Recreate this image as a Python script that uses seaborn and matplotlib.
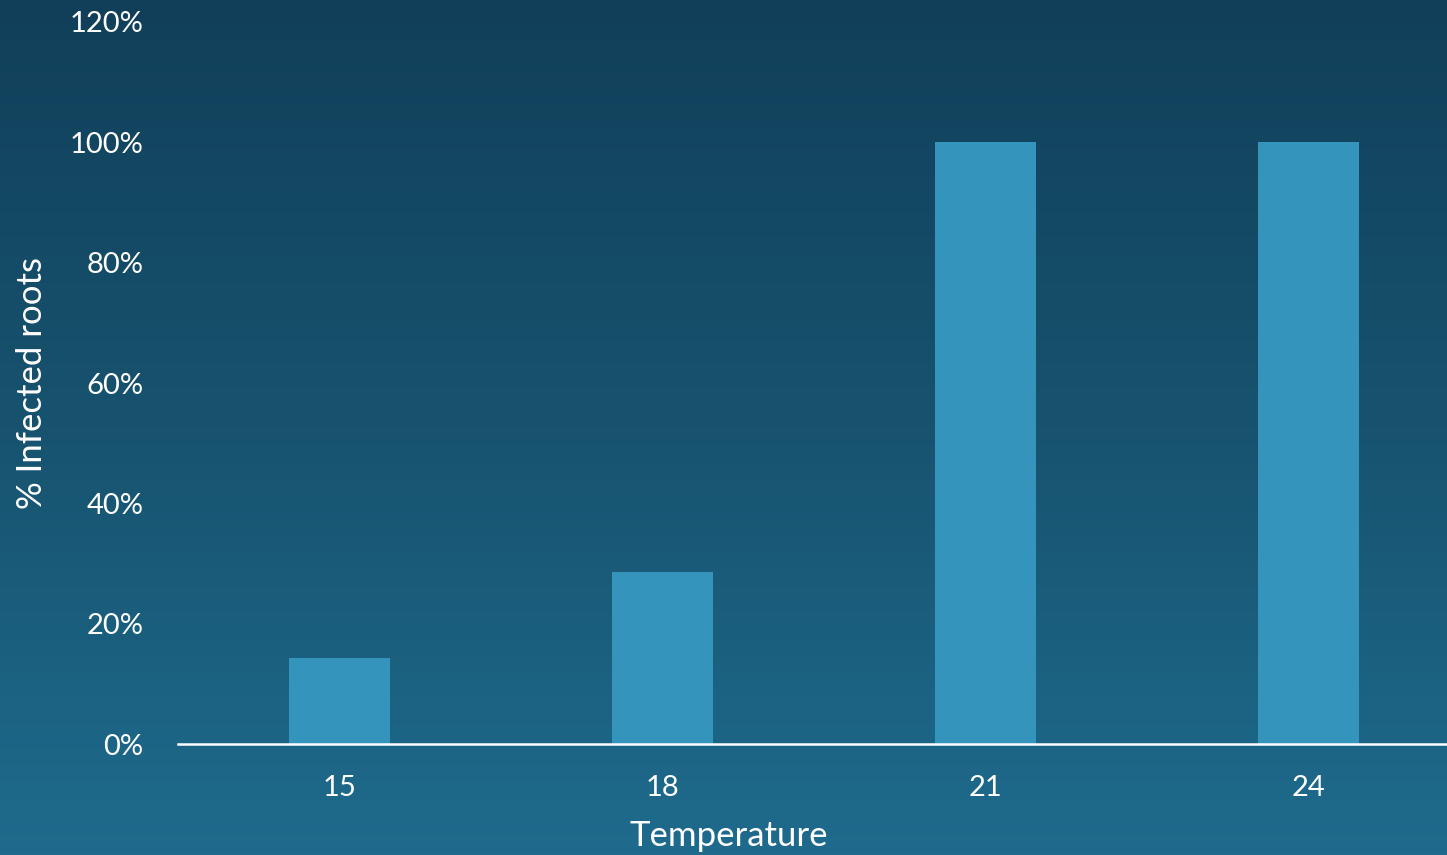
import matplotlib
matplotlib.use('Agg')
import matplotlib.pyplot as plt
import numpy as np
import pandas as pd
import seaborn as sns
from matplotlib.colors import LinearSegmentedColormap
from matplotlib.ticker import PercentFormatter

# data
temperatures = ['15', '18', '21', '24']
infected = [0.143, 0.286, 1.0, 1.0]
yticks = [0, 0.2, 0.4, 0.6, 0.8, 1.0, 1.2]

df = pd.DataFrame({'Temperature': temperatures, 'infected': infected})

sns.set_style('white')
plt.rcParams['font.family'] = ['Lato', 'DejaVu Sans']

fig = plt.figure(figsize=(14.47, 8.55), dpi=100)

# gradient background
bg = fig.add_axes([0, 0, 1, 1])
cmap = LinearSegmentedColormap.from_list('bg', ['#113f59', '#17536f', '#1f6b8d'])
grad = np.linspace(0, 1, 256).reshape(-1, 1)
bg.imshow(grad, aspect='auto', cmap=cmap, extent=[0, 1, 0, 1], origin='upper')
bg.axis('off')

ax = fig.add_axes([178 / 1447, (855 - 744) / 855, 1292 / 1447, (744 - 22) / 855])
ax.patch.set_alpha(0)
sns.barplot(data=df, x='Temperature', y='infected', color='#3594bb',
            saturation=1, width=0.31, edgecolor='none', linewidth=0, ax=ax)

ax.set_xlim(-0.5, 3.5)
ax.set_ylim(0, 1.2)
ax.set_yticks(yticks)
ax.yaxis.set_major_formatter(PercentFormatter(1.0, decimals=0))

for s in ['top', 'right', 'left']:
    ax.spines[s].set_visible(False)
ax.spines['bottom'].set_color('white')
ax.spines['bottom'].set_linewidth(1.8)

ax.tick_params(axis='both', length=0, colors='white', labelsize=21)
ax.tick_params(axis='x', pad=22)
ax.tick_params(axis='y', pad=25)

ax.set_xlabel('Temperature', color='white', fontsize=25)
ax.xaxis.set_label_coords(551 / 1292, -76 / 722)
ax.set_ylabel('% Infected roots', color='white', fontsize=25)
ax.yaxis.set_label_coords(-130 / 1292, 0.5)

fig.savefig('out.png', dpi=100)
